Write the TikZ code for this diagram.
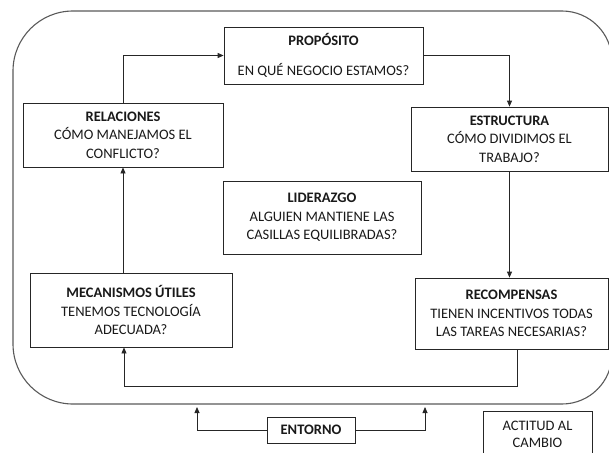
\documentclass[tikz,border=0pt]{standalone}
\usepackage{fontspec}
\setmainfont{Carlito}
\usetikzlibrary{arrows.meta}
\begin{document}
\begin{tikzpicture}[x=1pt,y=-1pt,
  box/.style={draw=black!85, line width=0.8pt, align=center, inner sep=0pt,
    font=\fontsize{14.5}{18.5}\selectfont, text=black!90},
  arr/.style={draw=black!85, line width=0.8pt, -{Triangle[length=6pt,width=5pt]}},
  plain/.style={draw=black!85, line width=0.8pt}
]
\useasboundingbox (0,0) rectangle (609,452);
% outer rounded frame
\draw[black!65, line width=1.1pt]
  (13,71) arc[start angle=180,end angle=270,radius=60] -- (562,11)
  arc[start angle=270,end angle=360,radius=50] -- (612,354)
  arc[start angle=0,end angle=90,radius=50] -- (73,404)
  arc[start angle=90,end angle=180,radius=60] -- cycle;

\node[box, minimum width=199, minimum height=57] (prop) at (323.5,55.5)
  {\textbf{PROPÓSITO}\\[11.5pt]EN QUÉ NEGOCIO ESTAMOS?};
\node[box, minimum width=200, minimum height=64] (rel) at (123,135)
  {\textbf{RELACIONES}\\CÓMO MANEJAMOS EL\\CONFLICTO?};
\node[box, minimum width=197, minimum height=64] (est) at (509.5,139)
  {\textbf{ESTRUCTURA}\\CÓMO DIVIDIMOS EL\\TRABAJO?};
\node[box, minimum width=198, minimum height=73] (lid) at (322,217.5)
  {\textbf{LIDERAZGO}\\ALGUIEN MANTIENE LAS\\CASILLAS EQUILIBRADAS?};
\node[box, minimum width=202, minimum height=74] (mec) at (131,310)
  {\textbf{MECANISMOS ÚTILES}\\TENEMOS TECNOLOGÍA\\ADECUADA?};
\node[box, minimum width=193, minimum height=71] (rec) at (511.5,313.5)
  {\textbf{RECOMPENSAS}\\TIENEN INCENTIVOS TODAS\\LAS TAREAS NECESARIAS?};
\node[box, minimum width=88, minimum height=26] (ent) at (311,430)
  {\textbf{ENTORNO}};
\node[box, minimum width=109, minimum height=47, font=\fontsize{14.5}{17}\selectfont] (act) at (537.5,434.5)
  {ACTITUD AL\\CAMBIO};

% connectors
\draw[arr] (rel.north) |- (prop.west);
\draw[arr] (prop.east) -| (est.north);
\draw[arr] (est.south) -- (est.south |- rec.north);
\draw[arr] (rel.south |- mec.north) -- (rel.south);
\coordinate (fbR) at (517,386);
\coordinate (fbL) at (124,386);
\draw[arr] (rec.south -| fbR) -- (fbR) -- (fbL) -- (fbL |- mec.south);
\coordinate (eL) at (197,407);
\coordinate (eR) at (425,407);
\draw[arr] (ent.west) -| (eL);
\draw[arr] (ent.east) -| (eR);
\end{tikzpicture}
\end{document}
